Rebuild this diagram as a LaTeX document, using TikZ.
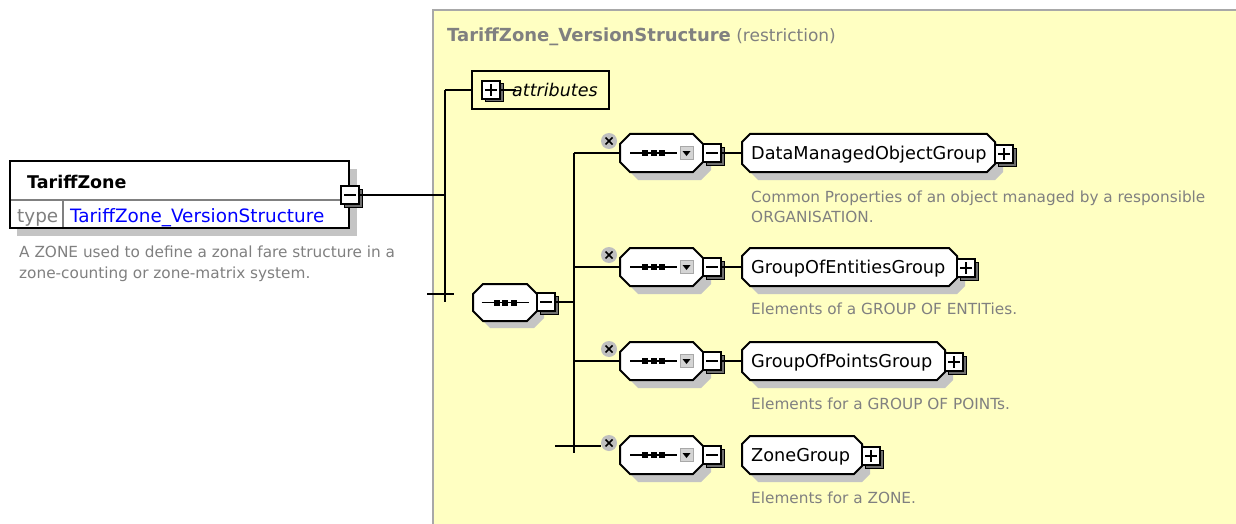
\documentclass[tikz,border=0pt]{standalone}
\usepackage{fontspec}
\setmainfont{DejaVu Sans}
\usetikzlibrary{calc}

\definecolor{panelyellow}{HTML}{FFFFC2}
\definecolor{framegray}{HTML}{A8A8A8}
\definecolor{shadowgray}{HTML}{C4C4C4}
\definecolor{descgray}{HTML}{808080}
\definecolor{boxshade}{HTML}{6E6E6E}
\definecolor{ddgray}{HTML}{D4D4D4}
\definecolor{typeblue}{HTML}{0000FF}

% octagonal outline from the current corner macros
\newcommand{\octpath}[1]{(\oL+#1,\oT) -- (\oR-#1,\oT) -- (\oR,\oT+#1) -- (\oR,\oB-#1) -- (\oR-#1,\oB) -- (\oL+#1,\oB) -- (\oL,\oB-#1) -- (\oL,\oT+#1) -- cycle}

% #1 name, #2 cx, #3 cy, #4 width, #5 height, #6 chamfer, #7 shadow offset
\newcommand{\octnode}[7]{%
  \pgfmathsetmacro\oL{#2-#4/2}\pgfmathsetmacro\oR{#2+#4/2}%
  \pgfmathsetmacro\oT{#3-#5/2}\pgfmathsetmacro\oB{#3+#5/2}%
  \fill[shadowgray, shift={(#7,#7)}] \octpath{#6};
  \filldraw[octframe] \octpath{#6};
  \node[anchorbox, minimum width=#4, minimum height=#5] (#1) at (#2,#3) {};
}

% expand / collapse boxes
\newcommand{\minusbox}[3]{%
  \filldraw[fill=boxshade, draw=black, line width=1] (#2-9+3,#3-9+3) rectangle ++(18,18);
  \node[pmframe] (#1) at (#2,#3) {};
  \draw[line width=1.5] (#2-6,#3) -- (#2+6,#3);
}
\newcommand{\plusbox}[3]{%
  \filldraw[fill=boxshade, draw=black, line width=1] (#2-9+3,#3-9+3) rectangle ++(18,18);
  \node[pmframe] (#1) at (#2,#3) {};
  \draw[line width=1.5] (#2-6,#3) -- (#2+6,#3) (#2,#3-6) -- (#2,#3+6);
}

% optional marker
\newcommand{\optmark}[3]{%
  \node[xcirc] (#1) at (#2,#3) {};
  \draw[line width=1.5] (#2-3.5,#3-3.5) -- (#2+3.5,#3+3.5) (#2-3.5,#3+3.5) -- (#2+3.5,#3-3.5);
}

% sequence glyph: line with three small squares
\newcommand{\seqglyph}[2]{%
  \draw[line width=1.5] (#1-23.5,#2) -- (#1+23.5,#2);
  \foreach \dx in {-8.5,0,8.5}{\fill (#1+\dx-3,#2-3) rectangle (#1+\dx+3,#2+3);}
}

% drop-down button
\newcommand{\ddbutton}[2]{%
  \filldraw[fill=ddgray, draw=framegray, line width=0.8] (#1-6.5,#2-6.5) rectangle (#1+6.5,#2+6.5);
  \fill (#1-4,#2-2) -- (#1+4,#2-2) -- (#1,#2+3) -- cycle;
}

\tikzset{
  anchorbox/.style={rectangle, inner sep=0, outer sep=0},
  octframe/.style={draw=black, fill=white, line width=2},
  pmframe/.style={rectangle, draw=black, fill=white, line width=1.6, minimum size=18, inner sep=0, outer sep=0},
  xcirc/.style={circle, fill=ddgray!90!black, minimum size=16, inner sep=0, outer sep=0},
  conn/.style={line width=2, black},
  desc/.style={text=descgray, inner sep=0, anchor=base west, font=\fontsize{15.3}{18}\selectfont},
  elname/.style={inner sep=0, anchor=base west, font=\fontsize{17.7}{20}\selectfont},
}

\begin{document}
\begin{tikzpicture}[x=1pt,y=-1pt]
\useasboundingbox (0,0) rectangle (1236,524);
\fill[white] (0,0) rectangle (1236,524);

% complex type panel
\fill[panelyellow] (433,10) rectangle (1236,524);
\draw[framegray, line width=1.2] (433,524) -- (433,10) -- (1236,10);
\node[anchor=base west, inner sep=0, text=descgray] (title) at (447,42)
  {\fontsize{18}{20}\selectfont\bfseries TariffZone\_VersionStructure\fontsize{17}{20}\selectfont\mdseries\ (restriction)};

% element TariffZone
\fill[shadowgray] (17,169) rectangle (357,236);
\node[anchorbox, draw=black, fill=white, line width=2, minimum width=339, minimum height=67] (tz) at (179.5,194.5) {};
\draw[descgray, line width=1.2] (11,200) -- (348,200) (63,200) -- (63,227);
\node[anchor=base west, inner sep=0, font=\fontsize{17.5}{20}\selectfont\bfseries] (tzname) at (27,188) {TariffZone};
\node[anchor=base west, inner sep=0, text=descgray, font=\fontsize{18.4}{20}\selectfont] (tztype) at (17,222) {type};
\node[anchor=base west, inner sep=0, text=typeblue, font=\fontsize{18.4}{20}\selectfont] (tztypename) at (70,222) {TariffZone\_VersionStructure};
\minusbox{tzm}{350}{195}
\node[desc] (tzd1) at (19,257) {A ZONE used to define a zonal fare structure in a};
\node[desc] (tzd2) at (19,278) {zone-counting or zone-matrix system.};

% attributes
\node[anchorbox, draw=black, fill=panelyellow, line width=1.2, minimum width=137, minimum height=38] (attr) at (540.5,90) {};
\plusbox{attrp}{491}{90}
\draw[line width=1.5] (attrp.east) -- (516,90);
\node[anchor=base west, inner sep=0, font=\fontsize{17.5}{20}\selectfont\itshape] (attrt) at (512,97) {attributes};

% top-level sequence
\octnode{seq}{505}{302.5}{64}{37}{10}{7}
\seqglyph{505}{302.5}
\minusbox{seqm}{546}{302}

% four optional choices
\foreach \r/\y in {1/153,2/267,3/361,4/455}{
  \octnode{ch\r}{661.5}{\y}{83}{38}{10}{8}
  \seqglyph{653.5}{\y}
  \ddbutton{686.5}{\y}
  \minusbox{chm\r}{712}{\y}
  \optmark{opt\r}{609}{\y-12}
}

% referenced groups
\octnode{el1}{868.5}{153}{253}{38}{8}{8}
\octnode{el2}{849.5}{267}{215}{38}{8}{8}
\octnode{el3}{843.5}{361}{203}{38}{8}{8}
\octnode{el4}{802}{455}{120}{38}{8}{8}
\plusbox{elp1}{1004}{154}
\plusbox{elp2}{966}{268}
\plusbox{elp3}{954}{362}
\plusbox{elp4}{871}{456}
\node[elname] (el1t) at (751,159.5) {DataManagedObjectGroup};
\node[elname] (el2t) at (751,273.5) {GroupOfEntitiesGroup};
\node[elname] (el3t) at (751,367.5) {GroupOfPointsGroup};
\node[elname] (el4t) at (751,461.5) {ZoneGroup};

\node[desc] (d1a) at (751,202) {Common Properties of an object managed by a responsible};
\node[desc] (d1b) at (751,222) {ORGANISATION.};
\node[desc] (d2) at (751,314) {Elements of a GROUP OF ENTITies.};
\node[desc] (d3) at (751,409) {Elements for a GROUP OF POINTs.};
\node[desc] (d4) at (751,503) {Elements for a ZONE.};

% connectors
\coordinate (j1) at (445,195);
\coordinate (bus1top) at (445,90);
\coordinate (bus1bot) at (445,302);
\coordinate (stubL) at (427,294);
\coordinate (stubR) at (454,294);
\draw[conn] (tzm.east) -- (j1);
\draw[conn] (bus1top) -- (bus1bot);
\draw[conn] (bus1top) -- (attr.west);
\draw[conn] (stubL) -- (stubR);

\coordinate (j2) at (574,302);
\coordinate (bus2top) at (574,153);
\coordinate (bus2bot) at (574,453);
\coordinate (b2) at (574,267);
\coordinate (b3) at (574,361);
\draw[conn] (seqm.east) -- (j2);
\draw[conn] (bus2top) -- (bus2bot);
\draw[conn] (bus2top) -- (ch1.west);
\draw[conn] (b2) -- (ch2.west);
\draw[conn] (b3) -- (ch3.west);
\coordinate (stub4a) at (555,446);
\coordinate (stub4b) at (601,446);
\draw[conn] (stub4a) -- (stub4b);

\draw[conn] (chm1.east) -- (el1.west);
\draw[conn] (chm2.east) -- (el2.west);
\draw[conn] (chm3.east) -- (el3.west);
\end{tikzpicture}
\end{document}
